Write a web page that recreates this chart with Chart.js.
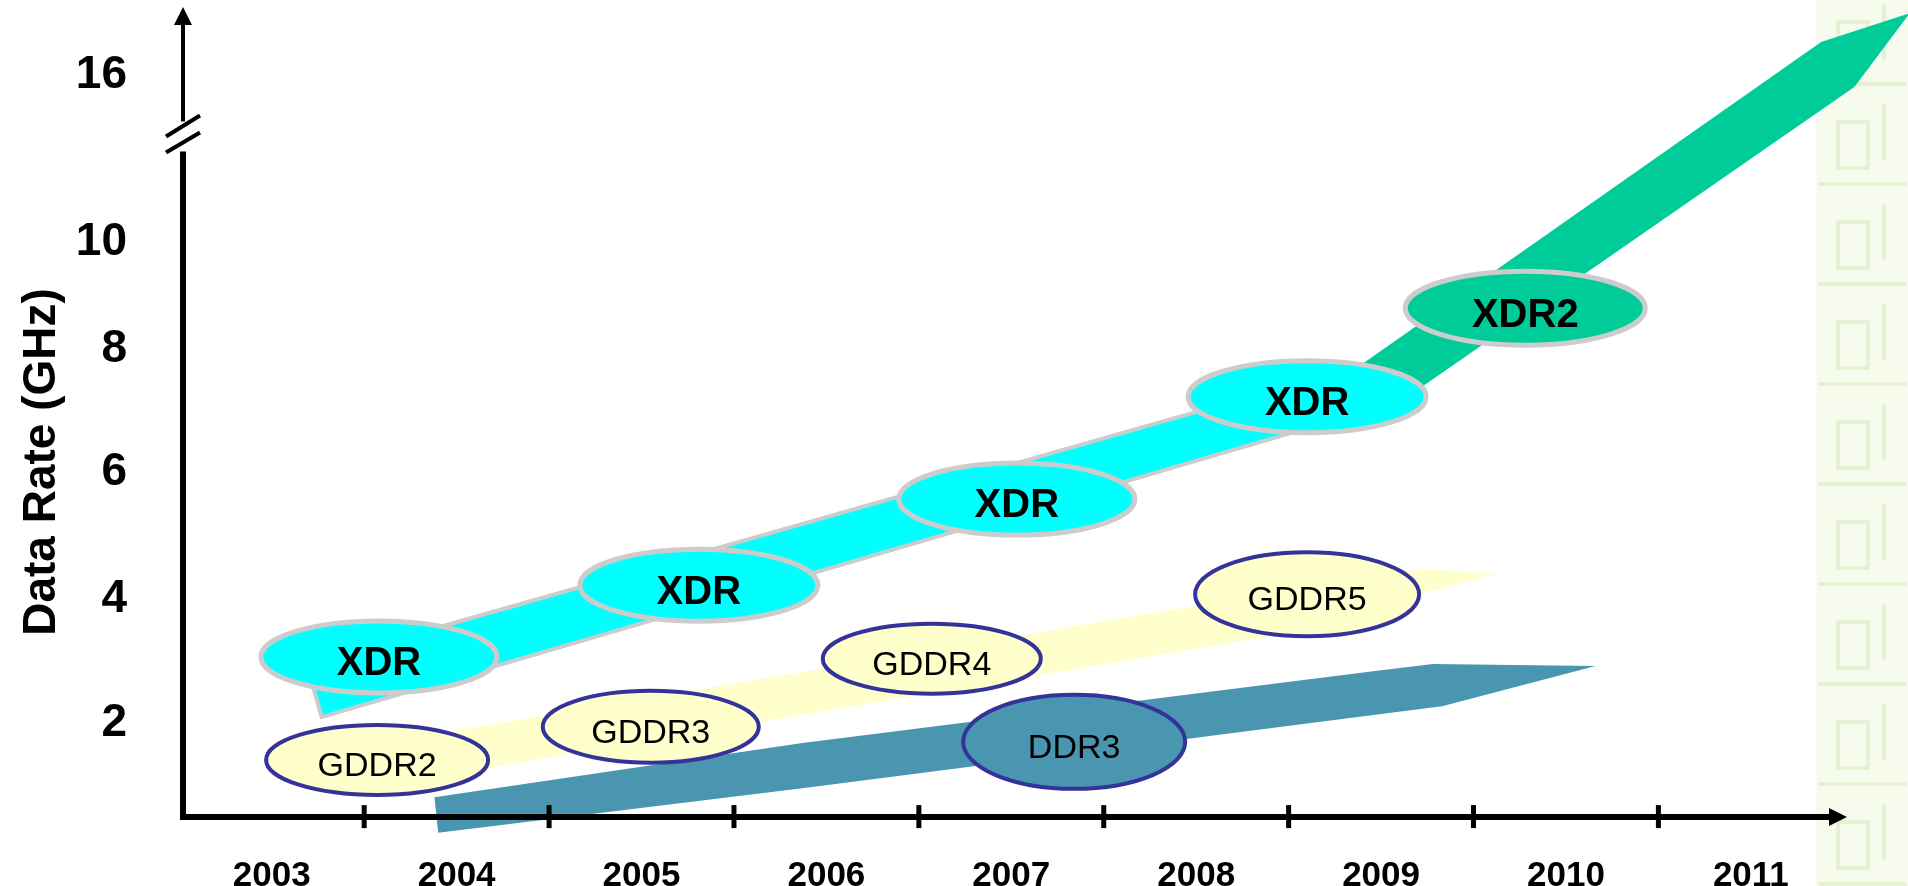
<!DOCTYPE html>
<html>
<head>
<meta charset="utf-8">
<script src="https://cdn.jsdelivr.net/npm/chart.js@4.4.0/dist/chart.umd.min.js"></script>
<style>
html, body { margin: 0; padding: 0; background: #fff; }
#wrap { width: 1908px; height: 886px; position: relative; }
</style>
</head>
<body>
<div id="wrap"><canvas id="graficaDataRate"></canvas></div>
<script>
// Eje x: años (etiquetas centradas, marcas entre años)
const years = [2003, 2004, 2005, 2006, 2007, 2008, 2009, 2010, 2011];
// Eje y con corte: el 16 va en la posición 12.76 del eje
const yTickPos = [2, 4.07, 6.18, 8.21, 10, 12.76];
const yTickLabels = ['2', '4', '6', '8', '10', '16'];
const yBreak = [11.5, 12.0];
const xAxisAt = 0.45;

// Bandas (contorno del polígono, año / valor en eje)
const ddr3BandX = [2003.88, 2005.87, 2009.00, 2009.28, 2010.16, 2009.33, 2009.00, 2005.87, 2003.90, 2003.88];
const ddr3BandY = [0.78, 1.68, 2.89, 2.99, 2.96, 2.29, 2.16, 0.93, 0.19, 0.78];
const gddrBandX = [2003.59, 2009.18, 2009.63, 2009.20, 2008.57, 2003.59];
const gddrBandY = [1.68, 4.57, 4.50, 4.14, 3.54, 0.97];
const xdrBandX = [2003.19, 2008.52, 2008.57, 2003.27, 2003.19];
const xdrBandY = [2.98, 7.63, 6.88, 2.11, 2.98];
const xdr2BandX = [2008.79, 2011.38, 2011.86, 2011.56, 2009.11];
const xdr2BandY = [7.74, 13.32, 13.80, 12.57, 7.36];

// Óvalos con el nombre de cada memoria
const chipLabels = ['XDR', 'XDR', 'XDR', 'XDR', 'XDR2', 'GDDR2', 'GDDR3', 'GDDR4', 'GDDR5', 'DDR3'];
const chipX = [2003.58, 2005.31, 2007.03, 2008.60, 2009.78, 2003.57, 2005.05, 2006.57, 2008.60, 2007.34];
const chipY = [3.11, 4.30, 5.73, 7.43, 8.90, 1.40, 1.95, 3.08, 4.15, 1.70];

// estilos de los óvalos
const chipKind = ['xdr', 'xdr', 'xdr', 'xdr', 'xdr2', 'gddr', 'gddr', 'gddr', 'gddr', 'ddr3'];
const chipSize = [[118, 36], [119, 36], [118, 36], [119, 36], [120, 37], [111, 35], [108, 36], [109, 35], [112, 42], [111, 47]];
const estilos = {
    xdr:  { fill: '#00ffff', border: '#cccccc', lw: 5, font: 'bold 40px "Liberation Sans", Arial', size: 40 },
    xdr2: { fill: '#00cc99', border: '#cccccc', lw: 5, font: 'bold 40px "Liberation Sans", Arial', size: 40 },
    gddr: { fill: '#ffffcc', border: '#333399', lw: 4, font: '34px "Liberation Sans", Arial', size: 34 },
    ddr3: { fill: '#4a96b0', border: '#333399', lw: 4, font: '34px "Liberation Sans", Arial', size: 34 }
};

const zip = (xs, ys) => xs.map((v, i) => ({ x: v, y: ys[i] }));

function banda(xs, ys, color, borde, ancho) {
    return {
        type: 'line',
        data: zip(xs, ys),
        backgroundColor: color,
        borderColor: borde,
        borderWidth: ancho,
        fill: 'shape',
        tension: 0,
        pointRadius: 0,
        clip: false
    };
}

// fondo blanco y franja decorativa a la derecha
const fondo = {
    id: 'fondo',
    beforeDraw(chart) {
        const ctx = chart.ctx;
        ctx.save();
        ctx.fillStyle = '#ffffff';
        ctx.fillRect(0, 0, chart.width, chart.height);
        ctx.fillStyle = '#f7fbee';
        ctx.fillRect(1816, 0, 92, chart.height);
        ctx.strokeStyle = '#e6f0d2';
        ctx.lineWidth = 4;
        for (let k = 0; k < 9; k++) {
            const t = k * 100;
            ctx.strokeRect(1838, t + 22, 30, 46);
            ctx.beginPath();
            ctx.moveTo(1818, t + 84); ctx.lineTo(1906, t + 84);
            ctx.moveTo(1884, t + 4); ctx.lineTo(1884, t + 60);
            ctx.stroke();
        }
        ctx.restore();
    }
};

// óvalos encima de las bandas
const ovalos = {
    id: 'ovalos',
    afterDatasetsDraw(chart) {
        const ctx = chart.ctx;
        const meta = chart.getDatasetMeta(4);
        ctx.save();
        meta.data.forEach((pt, i) => {
            const e = estilos[chipKind[i]];
            const [rx, ry] = chipSize[i];
            ctx.beginPath();
            ctx.ellipse(pt.x, pt.y, rx, ry, 0, 0, Math.PI * 2);
            ctx.fillStyle = e.fill;
            ctx.fill();
            ctx.lineWidth = e.lw;
            ctx.strokeStyle = e.border;
            ctx.stroke();
            ctx.font = e.font;
            ctx.fillStyle = '#000';
            ctx.textAlign = 'center';
            ctx.textBaseline = 'alphabetic';
            ctx.fillText(chipLabels[i], pt.x, pt.y + e.size * 0.36 + 4);
        });
        ctx.restore();
    }
};

// ejes con flechas, marcas y corte del eje y
const ejes = {
    id: 'ejes',
    afterDraw(chart) {
        const { ctx, scales: { x, y } } = chart;
        const x0 = x.getPixelForValue(2002.52);
        const yb = y.getPixelForValue(xAxisAt);
        const xEnd = x.getPixelForValue(2011.52);
        const yTop = y.top;
        const gapLow = y.getPixelForValue(yBreak[0]);
        const gapHigh = y.getPixelForValue(yBreak[1]);
        ctx.save();
        ctx.strokeStyle = '#000';
        ctx.fillStyle = '#000';
        // eje x
        ctx.lineWidth = 6;
        ctx.beginPath();
        ctx.moveTo(x0 - 3, yb); ctx.lineTo(xEnd - 14, yb);
        ctx.stroke();
        ctx.beginPath();
        ctx.moveTo(xEnd, yb); ctx.lineTo(xEnd - 18, yb - 9); ctx.lineTo(xEnd - 18, yb + 9);
        ctx.closePath(); ctx.fill();
        // marcas entre años
        ctx.lineWidth = 5;
        years.slice(0, -1).forEach(yr => {
            const px = x.getPixelForValue(yr + 0.5);
            ctx.beginPath();
            ctx.moveTo(px, yb - 12); ctx.lineTo(px, yb + 11);
            ctx.stroke();
        });
        // eje y (tramo inferior)
        ctx.lineWidth = 6;
        ctx.beginPath();
        ctx.moveTo(x0, yb + 3); ctx.lineTo(x0, gapLow);
        ctx.stroke();
        // tramo superior
        ctx.lineWidth = 4;
        ctx.beginPath();
        ctx.moveTo(x0, gapHigh); ctx.lineTo(x0, yTop + 14);
        ctx.stroke();
        ctx.beginPath();
        ctx.moveTo(x0, yTop); ctx.lineTo(x0 - 9, yTop + 18); ctx.lineTo(x0 + 9, yTop + 18);
        ctx.closePath(); ctx.fill();
        // corte
        ctx.lineWidth = 4;
        ctx.beginPath();
        ctx.moveTo(x0 - 17, gapHigh + 15); ctx.lineTo(x0 + 17, gapHigh - 6);
        ctx.moveTo(x0 - 17, gapHigh + 31); ctx.lineTo(x0 + 17, gapHigh + 11);
        ctx.stroke();
        // título del eje y
        ctx.translate(55, 462);
        ctx.rotate(-Math.PI / 2);
        ctx.font = 'bold 46px "Liberation Sans", Arial';
        ctx.textAlign = 'center';
        ctx.textBaseline = 'alphabetic';
        ctx.fillText('Data Rate (GHz)', 0, 0);
        ctx.restore();
    }
};

const ctxGrafica = document.getElementById('graficaDataRate').getContext('2d');
new Chart(ctxGrafica, {
    data: {
        datasets: [
            banda(ddr3BandX, ddr3BandY, '#4a96b0', '#4a96b0', 0),
            banda(gddrBandX, gddrBandY, '#ffffcc', '#ffffcc', 0),
            banda(xdrBandX, xdrBandY, '#00ffff', '#cccccc', 4),
            banda(xdr2BandX, xdr2BandY, '#00cc99', '#00cc99', 0),
            {
                type: 'scatter',
                data: zip(chipX, chipY),
                pointRadius: 0,
                clip: false
            }
        ]
    },
    options: {
        responsive: true,
        maintainAspectRatio: false,
        animation: false,
        events: [],
        layout: { padding: { top: 7, right: 0, bottom: 0, left: 0 } },
        plugins: {
            legend: { display: false },
            tooltip: { enabled: false }
        },
        scales: {
            x: {
                type: 'linear',
                min: 2002.52,
                max: 2011.85,
                grid: { display: false },
                border: { display: false },
                afterBuildTicks: s => { s.ticks = years.map(v => ({ value: v })); },
                afterFit: s => { s.height = 46; s.paddingLeft = 0; s.paddingRight = 0; },
                ticks: {
                    autoSkip: false,
                    maxRotation: 0,
                    padding: 7,
                    color: '#000',
                    font: { family: '"Liberation Sans", Arial', size: 35, weight: 'bold' },
                    callback: v => String(v)
                }
            },
            y: {
                type: 'linear',
                min: 0.07,
                max: 13.9,
                grid: { display: false },
                border: { display: false },
                afterBuildTicks: s => { s.ticks = yTickPos.map(v => ({ value: v })); },
                afterFit: s => { s.width = 183; s.paddingTop = 0; s.paddingBottom = 0; },
                ticks: {
                    padding: 48,
                    color: '#000',
                    font: { family: '"Liberation Sans", Arial', size: 46, weight: 'bold' },
                    callback: (v, i) => yTickLabels[i]
                }
            }
        }
    },
    plugins: [fondo, ovalos, ejes]
});
</script>
</body>
</html>
